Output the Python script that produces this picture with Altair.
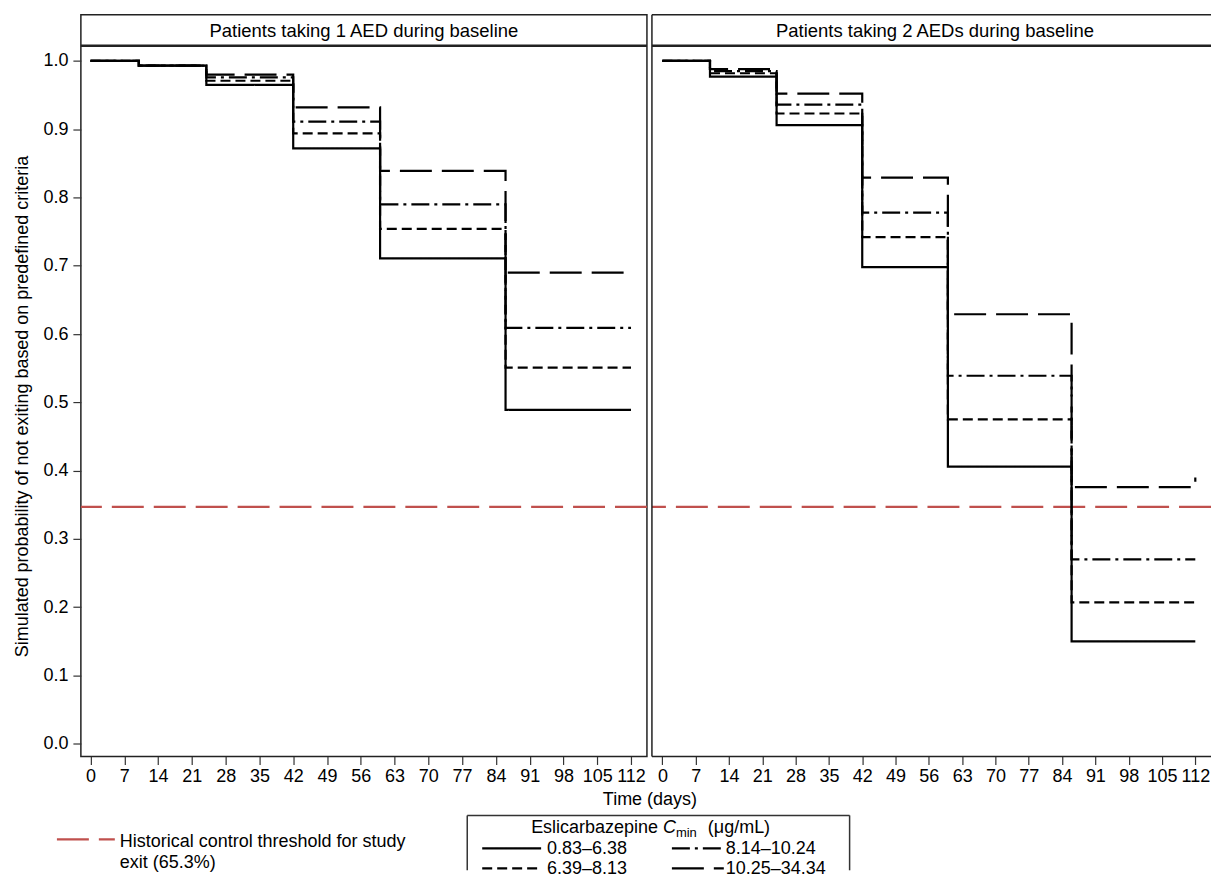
import altair as alt
import pandas as pd

# ---------------- data ----------------
times = [0, 10, 24, 42, 60, 86, 112]
series = ["0.83–6.38", "6.39–8.13", "8.14–10.24", "10.25–34.34"]

# Patients taking 1 AED during baseline
one_aed = {
    "0.83–6.38":   [1.0, 0.993, 0.965, 0.872, 0.711, 0.489, 0.489],
    "6.39–8.13":   [1.0, 0.993, 0.971, 0.894, 0.754, 0.551, 0.551],
    "8.14–10.24":  [1.0, 0.993, 0.976, 0.911, 0.790, 0.609, 0.609],
    "10.25–34.34": [1.0, 0.993, 0.980, 0.932, 0.839, 0.690, 0.690],
}
# Patients taking 2 AEDs during baseline
two_aed = {
    "0.83–6.38":   [1.0, 0.977, 0.906, 0.698, 0.406, 0.150, 0.150],
    "6.39–8.13":   [1.0, 0.982, 0.923, 0.742, 0.475, 0.207, 0.207],
    "8.14–10.24":  [1.0, 0.985, 0.936, 0.778, 0.539, 0.270, 0.270],
    "10.25–34.34": [1.0, 0.988, 0.952, 0.829, 0.629, 0.376, 0.390],
}
threshold = 0.347
panel_titles = ["Patients taking 1 AED during baseline", "Patients taking 2 AEDs during baseline"]
x_ticks = list(range(0, 113, 7))
y_ticks = [0.0, 0.1, 0.2, 0.3, 0.4, 0.5, 0.6, 0.7, 0.8, 0.9, 1.0]
threshold_label = ["Historical control threshold for study", "exit (65.3%)"]
legend_title = ["Eslicarbazepine ", "C", "min", "(μg/mL)"]
x_title = "Time (days)"
y_title = "Simulated probability of not exiting based on predefined criteria"

# ---------------- styling ----------------
FONT = "Liberation Sans"
FS = 18
H = 743
W_L, W_R = 567, 560
X_DOM_L = [-2.0, 115.3]
X_DOM_R = [-2.2, 115.3]
Y_DOM = [-0.0186, 1.0677]
dashes = [[1, 0], [10, 5], [18, 5, 3, 5], [32, 10]]
RED = "#c0504d"
FRAME = "#222"


def to_long(d):
    rows = []
    for s in series:
        for t, v in zip(times, d[s]):
            rows.append({"time": t, "prob": v, "series": s})
    return pd.DataFrame(rows)


def blank():
    return alt.Chart(pd.DataFrame({"k": [0]}))


def panel(d, title, W, xdom, is_left):
    df = to_long(d)
    xaxis = alt.Axis(values=x_ticks, title=None, labelFontSize=FS, tickSize=8, tickColor="#333",
                     tickWidth=1.2, labelPadding=3, labelOverlap=False, labelFlush=False,
                     labelAlign="center",
                     domain=False, grid=False, labelColor="black", labelFont=FONT)
    if is_left:
        yaxis = alt.Axis(values=y_ticks, format=".1f", title=y_title, titleFontSize=FS,
                         titleFontWeight="normal", titlePadding=11, labelFontSize=FS, tickSize=8,
                         tickColor="#333", tickWidth=1.2, labelPadding=5, domain=False, grid=False,
                         labelColor="black", titleColor="black", labelFont=FONT, titleFont=FONT,
                         titleY=392)
    else:
        yaxis = None
    xsc = alt.Scale(domain=xdom, nice=False, zero=False)
    ysc = alt.Scale(domain=Y_DOM, nice=False, zero=False)
    lines = alt.Chart(df).mark_line(interpolate="step-after", strokeWidth=2.2, color="black").encode(
        x=alt.X("time:Q", scale=xsc, axis=xaxis),
        y=alt.Y("prob:Q", scale=ysc, axis=yaxis),
        strokeDash=alt.StrokeDash("series:N", scale=alt.Scale(domain=series, range=dashes), legend=None),
    )
    thr = alt.Chart(pd.DataFrame({"thr": [threshold]})).mark_rule(
        color=RED, strokeWidth=2.2, strokeDash=[32, 10]).encode(
        y=alt.Y("thr:Q", scale=ysc, axis=yaxis))
    head_rule = blank().mark_rule(color=FRAME, strokeWidth=2.5).encode(
        x=alt.value(0), x2=alt.value(W), y=alt.value(31))
    head_text = blank().mark_text(text=title, font=FONT, fontSize=18.5, color="black",
                                  baseline="middle", align="center").encode(
        x=alt.value(283.5), y=alt.value(16))
    layers = [thr, lines, head_rule, head_text]

    if not is_left:
        # frame without the right edge (cut off at the page edge in the reference)
        layers.append(blank().mark_rule(color=FRAME, strokeWidth=1.5).encode(
            x=alt.value(0), x2=alt.value(W), y=alt.value(0)))
        layers.append(blank().mark_rule(color=FRAME, strokeWidth=1.5).encode(
            x=alt.value(0), x2=alt.value(W), y=alt.value(H)))
        layers.append(blank().mark_rule(color=FRAME, strokeWidth=1.5).encode(
            x=alt.value(0), y=alt.value(0), y2=alt.value(H)))
    else:
        # x axis title, centred under both panels
        layers.append(blank().mark_text(text=x_title, font=FONT, fontSize=FS, color="black",
                                        align="center", baseline="alphabetic").encode(
            x=alt.value(570), y=alt.value(792)))
        # threshold legend
        layers.append(blank().mark_rule(color=RED, strokeWidth=2.2, strokeDash=[32, 10]).encode(
            x=alt.value(-24), x2=alt.value(34), y=alt.value(826)))
        for i, txt in enumerate(threshold_label):
            layers.append(blank().mark_text(text=txt, font=FONT, fontSize=FS, color="black",
                                            align="left", baseline="alphabetic").encode(
                x=alt.value(39), y=alt.value(834 + 21 * i)))
        # box (top, left, right; the bottom is cut off in the reference)
        bx0, bx1, by0, by1 = 387, 770, 802, 857
        layers.append(blank().mark_rule(color="#333", strokeWidth=1.5).encode(
            x=alt.value(bx0), x2=alt.value(bx1), y=alt.value(by0)))
        for bx in (bx0, bx1):
            layers.append(blank().mark_rule(color="#333", strokeWidth=1.5).encode(
                x=alt.value(bx), y=alt.value(by0), y2=alt.value(by1)))
        # title pieces: Eslicarbazepine C_min (μg/mL)
        tx = [451, 583, 596, 628]
        tsz = [FS, FS, 13, FS]
        tsty = ["normal", "italic", "normal", "normal"]
        tdy = [820, 820, 824, 820]
        for txt, x, sz, st, yy in zip(legend_title, tx, tsz, tsty, tdy):
            layers.append(blank().mark_text(text=txt, font=FONT, fontSize=sz, fontStyle=st,
                                            color="black", align="left",
                                            baseline="alphabetic").encode(
                x=alt.value(x), y=alt.value(yy)))
        # entries, two columns
        gx = [(402, 461), (402, 461), (592, 644), (592, 644)]
        gy = [835, 855, 835, 855]
        lx = [467, 467, 646, 646]
        for s, dsh, (g0, g1), yy, xx in zip(series, dashes, gx, gy, lx):
            layers.append(blank().mark_rule(color="black", strokeWidth=2.2, strokeDash=dsh).encode(
                x=alt.value(g0), x2=alt.value(g1), y=alt.value(yy)))
            layers.append(blank().mark_text(text=s, font=FONT, fontSize=FS, color="black",
                                            align="left", baseline="middle").encode(
                x=alt.value(xx), y=alt.value(yy + 1)))

    ch = alt.layer(*layers).properties(width=W, height=H)
    if not is_left:
        ch = ch.properties(view=alt.ViewBackground(strokeOpacity=0))
    return ch


left = panel(one_aed, panel_titles[0], W_L, X_DOM_L, True)
right = panel(two_aed, panel_titles[1], W_R, X_DOM_R, False)

chart = alt.hconcat(left, right, spacing=5, bounds="flush").properties(
    padding={"left": 5, "top": 5, "right": 0, "bottom": 0}
).configure_view(stroke=FRAME, strokeWidth=1.5)

chart.save("out.html", embed_options={"renderer": "svg", "actions": False})
